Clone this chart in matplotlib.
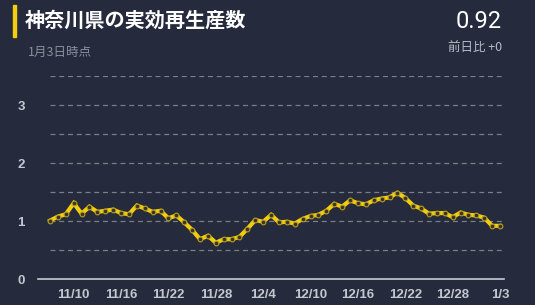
import matplotlib
matplotlib.use("Agg")
import matplotlib.pyplot as plt
import numpy as np
import datetime as dt

plt.rcParams['font.family'] = ['Noto Sans CJK JP', 'DejaVu Sans']

# data: effective reproduction number, 11/7 .. 1/3
start = dt.date(2020, 11, 7)
rt_values = [1.01, 1.08, 1.12, 1.31, 1.13, 1.25, 1.16, 1.18, 1.20, 1.14,
             1.12, 1.27, 1.22, 1.16, 1.18, 1.05, 1.10, 0.98, 0.85, 0.69,
             0.75, 0.63, 0.69, 0.69, 0.73, 0.87, 1.02, 0.99, 1.11, 0.98,
             0.99, 0.96, 1.04, 1.09, 1.11, 1.18, 1.30, 1.25, 1.36, 1.31,
             1.29, 1.36, 1.39, 1.41, 1.49, 1.40, 1.27, 1.22, 1.13, 1.14,
             1.14, 1.07, 1.15, 1.11, 1.10, 1.06, 0.92, 0.92]
dates = [start + dt.timedelta(days=i) for i in range(len(rt_values))]
tick_labels = ['11/10', '11/16', '11/22', '11/28', '12/4', '12/10',
               '12/16', '12/22', '12/28', '1/3']
y_ticks = [0, 1, 2, 3]
title = '神奈川県の実効再生産数'
subtitle = '1月3日時点'
latest = '0.92'
diff = '前日比 +0'

bg = '#252a3c'
yellow = '#f2cd12'

fig = plt.figure(figsize=(5.35, 3.05), dpi=100)
fig.patch.set_facecolor(bg)
ax = fig.add_axes([50 / 535, 1 - 279.3 / 305, 454 / 535, (279.3 - 76) / 305])
ax.set_facecolor(bg)

x = np.arange(len(rt_values))
ax.plot(x, rt_values, color=yellow, lw=3, solid_joinstyle='miter',
        marker='o', ms=3.4, mfc='#34352f', mec='#b89c18', mew=0.8,
        clip_on=False, zorder=3)

# x ticks from the date labels
tick_pos = [i for i, d in enumerate(dates) if f'{d.month}/{d.day}' in tick_labels]
ax.set_xticks(tick_pos)
ax.set_xticklabels([f'{dates[i].month}/{dates[i].day}' for i in tick_pos])
ax.set_xlim(0, 57.5)
ax.set_ylim(0, 3.5)
ax.set_yticks(y_ticks)
ax.set_yticklabels([str(v) for v in y_ticks])

for v in [0.5, 1, 1.5, 2, 2.5, 3, 3.5]:
    ax.axhline(v, color='#7a7e8a', lw=0.9, ls=(0, (4, 3)), zorder=1)
ax.plot([-1.5, 57.5], [0, 0], color='#c8cacf', lw=1.2, clip_on=False, zorder=2)

for s in ax.spines.values():
    s.set_visible(False)
ax.tick_params(axis='both', length=0, colors='#c4c7ce', labelsize=9.5)
ax.tick_params(axis='y', pad=18)
ax.tick_params(axis='x', pad=7)
for lab in ax.get_xticklabels() + ax.get_yticklabels():
    lab.set_fontweight('bold')
    lab.set_family(['Liberation Sans', 'DejaVu Sans'])

# header
fig.patches.append(plt.Rectangle((13 / 535, 1 - 37 / 305), 3 / 535, 32 / 305,
                                 transform=fig.transFigure, color=yellow))
fig.text(25 / 535, 1 - 20 / 305, title, color='white', fontsize=14.5,
         fontweight='bold', va='center', ha='left')
fig.text(28 / 535, 1 - 52 / 305, subtitle, color='#8b909c', fontsize=9,
         va='center', ha='left')
fig.text(502 / 535, 1 - 21 / 305, latest, color='white', fontsize=17,
         va='center', ha='right', family=['Roboto', 'DejaVu Sans'])
fig.text(502 / 535, 1 - 47 / 305, diff, color='#b8bcc5', fontsize=9,
         va='center', ha='right')

fig.savefig('out.png', dpi=100, facecolor=bg)
